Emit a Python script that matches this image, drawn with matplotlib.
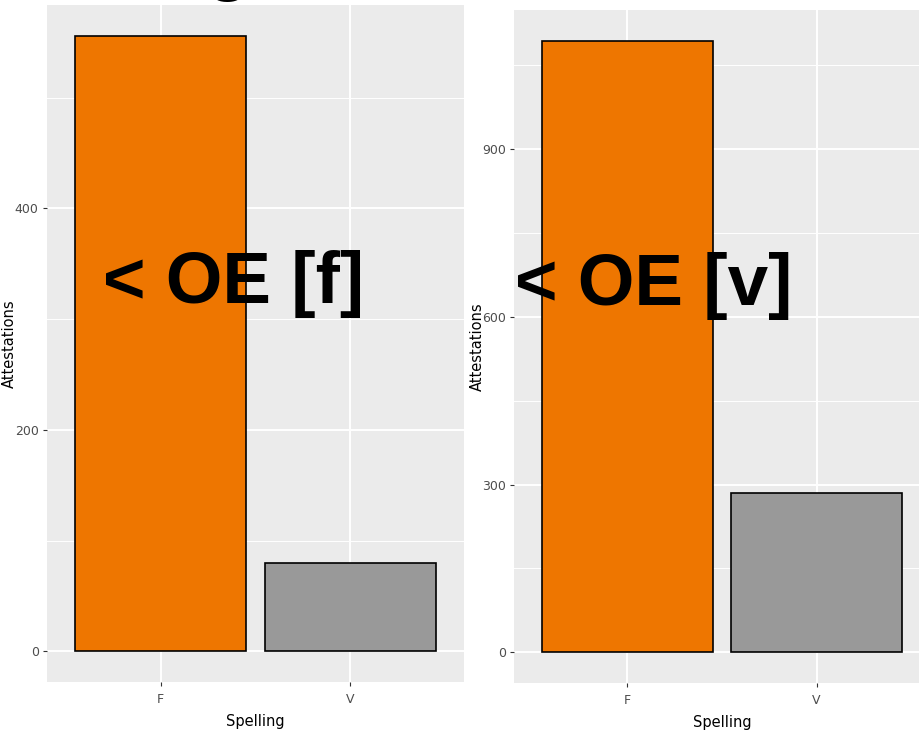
import matplotlib
matplotlib.use("Agg")
from matplotlib import pyplot as plt
from matplotlib.ticker import MultipleLocator

spelling = ["F", "V"]
counts_f = [556, 80]      # < OE [f]
counts_v = [1093, 284]    # < OE [v]
labels = ["< OE [f]", "< OE [v]"]
bar_colors = ["#EE7600", "#999999"]

left_ticks = [0, 200, 400]
right_ticks = [0, 300, 600, 900]

def style_panel(ax, vals, ticks, minor, ylab_x):
    ax.set_facecolor("#EBEBEB")
    for s in ax.spines.values():
        s.set_visible(False)
    x = range(len(spelling))
    ax.bar(x, vals, width=0.9, color=bar_colors, edgecolor="black",
           linewidth=1.2, zorder=3)
    ax.set_xlim(-0.6, len(spelling) - 0.4)
    top = max(vals) * 1.05
    ax.set_ylim(-max(vals) * 0.05, top)
    ax.set_xticks(list(x))
    ax.set_xticklabels(spelling)
    ax.set_yticks(ticks)
    ax.yaxis.set_minor_locator(MultipleLocator(minor))
    ax.grid(which="major", color="white", linewidth=1.4, zorder=0)
    ax.grid(which="minor", axis="y", color="white", linewidth=0.7, zorder=0)
    ax.tick_params(which="minor", length=0)
    ax.tick_params(which="major", length=3, width=0.8, color="#333333",
                   labelcolor="#4D4D4D", labelsize=9, pad=3)
    ax.tick_params(axis="x", pad=5)
    ax.set_axisbelow(True)
    ax.set_xlabel("Spelling", fontsize=10.5, labelpad=6)
    ax.set_ylabel("Attestations", fontsize=10.5)
    ax.yaxis.set_label_coords(ylab_x, 0.5)

fig = plt.figure(figsize=(9.2, 7.35), dpi=100)
ax1 = fig.add_axes([0.0511, 0.0721, 0.4533, 0.9211])
ax2 = fig.add_axes([0.5587, 0.0707, 0.4522, 0.9156])

style_panel(ax1, counts_f, left_ticks, 100, -0.072)
style_panel(ax2, counts_v, right_ticks, 150, -0.07)

fig.text(103 / 920, 1 - 303 / 735, labels[0], fontsize=52.5,
         fontweight="bold", family="Liberation Sans", ha="left",
         va="baseline")
fig.text(515 / 920, 1 - 305 / 735, labels[1], fontsize=52.5,
         fontweight="bold", family="Liberation Sans", ha="left",
         va="baseline")

# cut-off title descender at the very top
fig.text(228 / 920, 1 + 13 / 735, "g", fontsize=52.5, fontweight="bold",
         family="Liberation Sans", ha="center", va="baseline")

fig.savefig("out.png", dpi=100)
